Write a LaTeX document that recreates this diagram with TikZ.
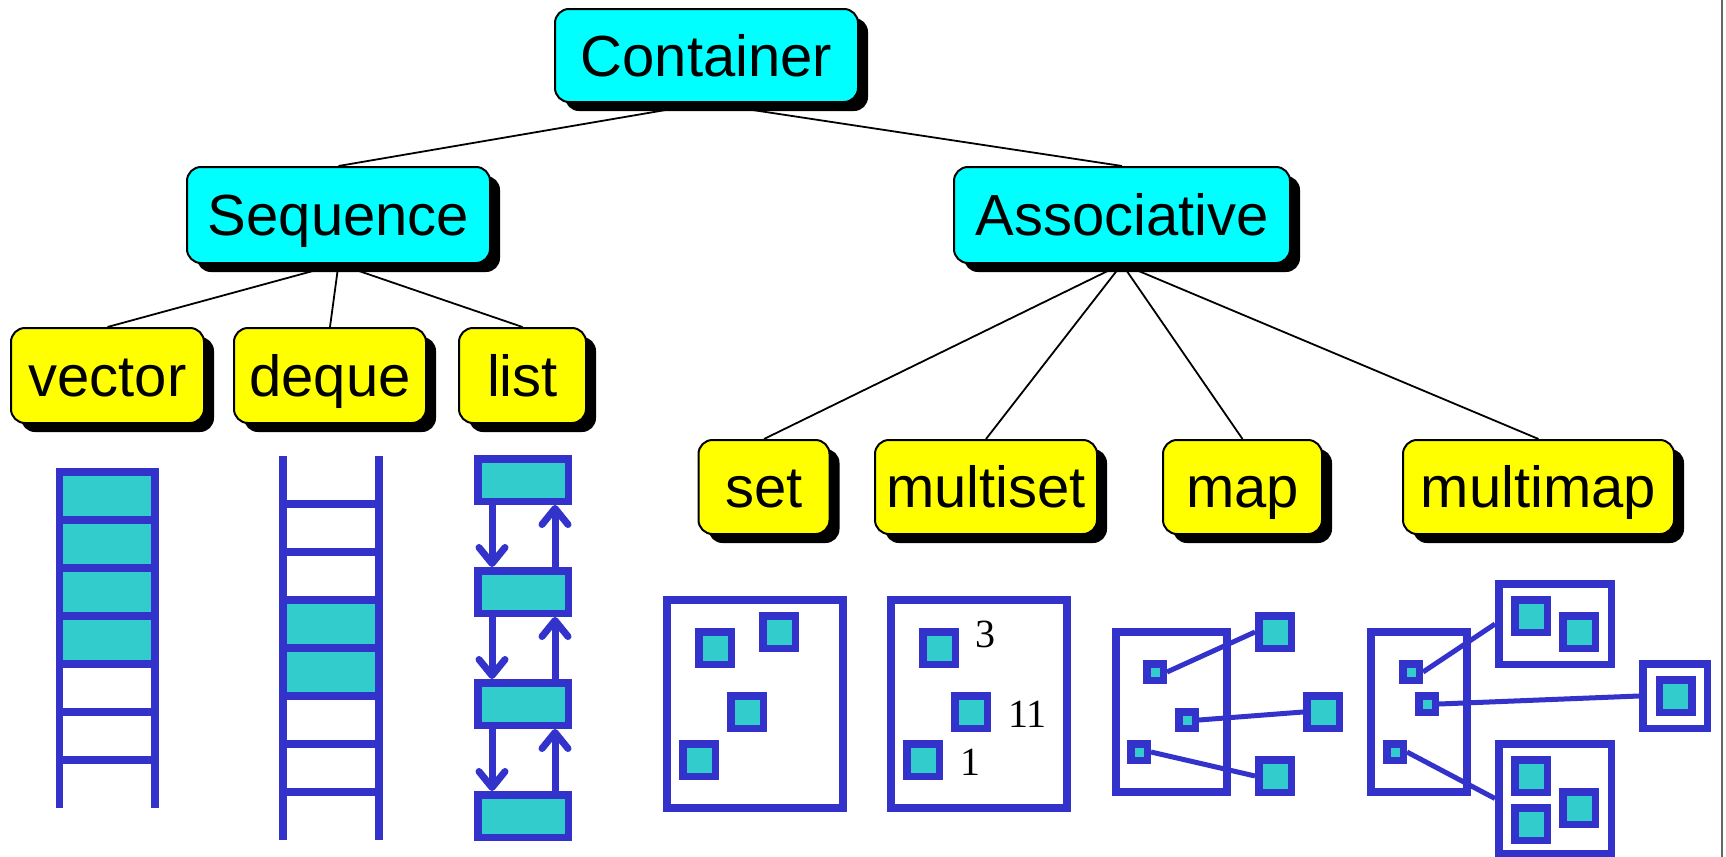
\documentclass[tikz,border=0pt]{standalone}
\usepackage{fontspec}
\setmainfont{Liberation Sans}
\newfontfamily\numfont{Liberation Serif}
\usetikzlibrary{shadows,arrows.meta,calc}
\definecolor{bl}{RGB}{51,51,204}
\definecolor{tl}{RGB}{51,204,204}
\definecolor{cy}{RGB}{0,255,255}
\definecolor{yl}{RGB}{255,255,0}
\pgfdeclarelayer{paper}
\pgfdeclarelayer{bg}
\pgfsetlayers{paper,bg,main}
\begin{document}
\begin{tikzpicture}[x=0.5pt,y=-0.5pt,
  tbox/.style={draw=black, line width=1pt, rounded corners=7pt, inner sep=0pt,
    font=\fontsize{29pt}{34pt}\selectfont, text height=20.8pt, text depth=0pt,
    drop shadow={shadow xshift=5pt, shadow yshift=-4.5pt, fill=black, opacity=1}},
  cbox/.style={tbox, fill=cy},
  ybox/.style={tbox, fill=yl},
  tree/.style={draw=black, line width=0.9pt},
  blu/.style={draw=bl, line width=3.75pt},
  vsq/.style={blu, fill=tl, minimum size=16.25pt, inner sep=0pt},
  ksq/.style={blu, fill=tl, minimum size=8.25pt, inner sep=0pt},
  grp/.style={blu, fill=white, inner sep=0pt},
  lbox/.style={blu, fill=tl, minimum width=45.25pt, minimum height=21.25pt, inner sep=0pt},
  link/.style={draw=bl, line width=2.5pt},
  larr/.style={draw=bl, line width=3.5pt, -{Straight Barb[length=8pt,width=13pt,round]}},
  num/.style={font=\numfont\fontsize{20pt}{24pt}\selectfont, inner sep=0pt, anchor=base west}
]
\useasboundingbox (0,0) rectangle (1726,857);
\begin{pgfonlayer}{paper}
\fill[white] (0,0) rectangle (1726,857);
\end{pgfonlayer}

% tree boxes
\node[cbox, minimum width=151.5pt, minimum height=46.5pt] (cont) at (706.5,55.5) {Container};
\node[cbox, minimum width=151.5pt, minimum height=48pt] (seq) at (338.5,215) {Sequence};
\node[cbox, minimum width=168pt, minimum height=48pt] (assoc) at (1122,215) {Associative};
\node[ybox, minimum width=96.5pt, minimum height=47.5pt] (vec) at (107.5,375.5) {vector};
\node[ybox, minimum width=96pt, minimum height=47.5pt] (deq) at (330,375.5) {deque};
\node[ybox, minimum width=63.5pt, minimum height=47.5pt] (lst) at (522.5,375.5) {list};
\node[ybox, minimum width=65.5pt, minimum height=47pt] (set) at (764,487) {set};
\node[ybox, minimum width=111pt, minimum height=47pt] (mset) at (986,487) {multiset};
\node[ybox, minimum width=79.5pt, minimum height=47pt] (map) at (1242.5,487) {map};
\node[ybox, minimum width=135.5pt, minimum height=47pt] (mmap) at (1538.5,487) {multimap};

\begin{pgfonlayer}{bg}
\draw[tree] (cont.south) -- (seq.north);
\draw[tree] (cont.south) -- (assoc.north);
\draw[tree] (seq.south) -- (vec.north);
\draw[tree] (seq.south) -- (deq.north);
\draw[tree] (seq.south) -- (lst.north);
\draw[tree] (assoc.south) -- (set.north);
\draw[tree] (assoc.south) -- (mset.north);
\draw[tree] (assoc.south) -- (map.north);
\draw[tree] (assoc.south) -- (mmap.north);
\end{pgfonlayer}

% vector
\fill[tl] (59.5,472) rectangle (155,664);
\foreach \y in {472,520,...,760} \draw[blu] (59.5,\y) -- (155,\y);
\draw[blu] (59.5,468) -- (59.5,808);
\draw[blu] (155,468) -- (155,808);

% deque
\fill[tl] (283,600) rectangle (379,696);
\foreach \y in {504,552,...,792} \draw[blu] (283,\y) -- (379,\y);
\draw[blu] (283,456) -- (283,840);
\draw[blu] (379,456) -- (379,840);

% list
\node[lbox] (l1) at (523,480) {};
\node[lbox] (l2) at (523,592) {};
\node[lbox] (l3) at (523,704) {};
\node[lbox] (l4) at (523,816) {};
\foreach \a/\b in {l1/l2,l2/l3,l3/l4} {
  \draw[larr] ($(\a.south)+(-31,0)$) -- ($(\b.north)+(-31,0)$);
  \draw[larr] ($(\b.north)+(32,0)$) -- ($(\a.south)+(32,0)$);
}

% set
\draw[blu] (667,600) rectangle (843,808);
\node[vsq] (s1) at (715,648) {};
\node[vsq] (s2) at (779,632) {};
\node[vsq] (s3) at (747,712) {};
\node[vsq] (s4) at (699,760) {};

% multiset
\draw[blu] (891,600) rectangle (1067,808);
\node[vsq] (ms1) at (939,648) {};
\node[vsq] (ms2) at (971,712) {};
\node[vsq] (ms3) at (923,760) {};
\node[num] (n3) at (975,647) {3};
\node[num] (n11) at (1008,727) {11};
\node[num] (n1) at (960,775) {1};

% map
\draw[blu] (1116,632) rectangle (1227,792);
\node[ksq] (mk1) at (1155,672) {};
\node[ksq] (mk2) at (1187,720) {};
\node[ksq] (mk3) at (1139,752) {};
\node[vsq] (mv1) at (1275,632) {};
\node[vsq] (mv2) at (1323,712) {};
\node[vsq] (mv3) at (1275,776) {};
\draw[link] (mk1.east) -- (mv1.west);
\draw[link] (mk2.east) -- (mv2.west);
\draw[link] (mk3.east) -- (mv3.west);

% multimap
\draw[blu] (1371,632) rectangle (1467,792);
\node[ksq] (k1) at (1411,672) {};
\node[ksq] (k2) at (1427,704) {};
\node[ksq] (k3) at (1395,752) {};
\node[grp, minimum width=56.25pt, minimum height=40.25pt] (g1) at (1555,624) {};
\node[grp, minimum width=32.25pt, minimum height=32.25pt] (g2) at (1675,696) {};
\node[grp, minimum width=56.25pt, minimum height=54.75pt] (g3) at (1555,798.5) {};
\node[vsq] (g1a) at (1531,616) {};
\node[vsq] (g1b) at (1579,632) {};
\node[vsq] (g2a) at (1675.5,696) {};
\node[vsq] (g3a) at (1531,776) {};
\node[vsq] (g3b) at (1579,808) {};
\node[vsq] (g3c) at (1531,824) {};
\draw[link] (k1.east) -- (g1.west);
\draw[link] (k2.east) -- (g2.west);
\draw[link] (k3.east) -- (g3.west);

% right edge line
\draw[black!60, line width=0.75pt] (1722,0) -- (1722,857);
\end{tikzpicture}
\end{document}
